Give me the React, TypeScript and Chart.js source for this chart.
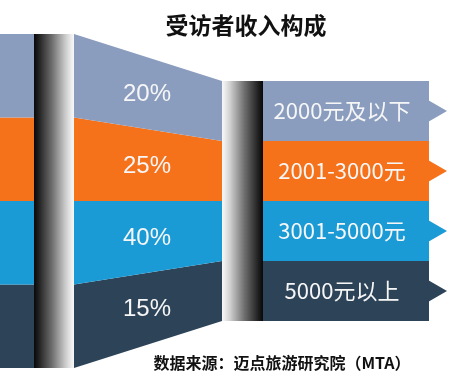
import React, { useEffect, useRef } from "react";
import { Chart, registerables } from "chart.js";

Chart.register(...registerables);

// ---- data ----
const categories = ["2000元及以下", "2001-3000元", "3001-5000元", "5000元以上"];
const shares = [20, 25, 40, 15];
const shareLabels = shares.map((v) => `${v}%`);
const bandColors = ["#8A9DBF", "#F5721B", "#1A9BD6", "#2D4358"];
const titleText = "受访者收入构成";
const sourceText = "数据来源：迈点旅游研究院（MTA）";

// ---- layout (funnel geometry, in canvas-like x units and band units) ----
const W = 450;
const H = 380;
const PX_PER_BAND = 83.5;
const CENTER_PX = 201;
const Y_MAX = CENTER_PX / PX_PER_BAND;
const Y_MIN = -(H - CENTER_PX) / PX_PER_BAND;
const RIGHT_SCALE = 0.7186;
const stages = [
  { x: 0, s: 1 },
  { x: 74, s: 1 },
  { x: 222, s: RIGHT_SCALE },
  { x: 429, s: RIGHT_SCALE },
];
const cyl1 = { x0: 34, x1: 74, s: 1 };
const cyl2 = { x0: 222, x1: 263, s: RIGHT_SCALE };
const pctLabelX = 147;
const catLabelX = 342;
const arrowX = 434;

function scaleAt(x: number) {
  for (let i = 0; i < stages.length - 1; i++) {
    const a = stages[i];
    const b = stages[i + 1];
    if (x >= a.x && x <= b.x) {
      return a.s + ((x - a.x) / (b.x - a.x)) * (b.s - a.s);
    }
  }
  return 1;
}

const n = categories.length;
const half = n / 2;

const overlayPlugin = {
  id: "overlay",
  afterDatasetsDraw(chart: any) {
    const { ctx, scales } = chart;
    const xs = scales.x;
    const ys = scales.y;
    // cylinders
    const drawCyl = (c: any, reverse: boolean) => {
      const x0 = xs.getPixelForValue(c.x0);
      const x1 = xs.getPixelForValue(c.x1);
      const y0 = ys.getPixelForValue(c.s * half);
      const y1 = ys.getPixelForValue(-c.s * half);
      const g = ctx.createLinearGradient(x0, 0, x1, 0);
      const stops: [number, string][] = [
        [0, "#080808"],
        [0.1, "#1c1c1c"],
        [0.45, "#6e6e6e"],
        [0.8, "#cfcfcf"],
        [0.93, "#ececec"],
        [1, "#f7f7f7"],
      ];
      stops.forEach(([p, col]) => g.addColorStop(reverse ? 1 - p : p, col));
      ctx.save();
      ctx.fillStyle = g;
      ctx.fillRect(x0, y0, x1 - x0, y1 - y0);
      ctx.restore();
    };
    drawCyl(cyl1, false);
    drawCyl(cyl2, true);

    ctx.save();
    ctx.textAlign = "center";
    ctx.textBaseline = "middle";
    ctx.fillStyle = "#f6f6f6";
    // percent labels
    ctx.font = '24px "Liberation Sans", Arial, sans-serif';
    const sp = scaleAt(pctLabelX);
    shareLabels.forEach((t, k) => {
      const y = ys.getPixelForValue(sp * (half - 0.5 - k));
      ctx.fillText(t, xs.getPixelForValue(pctLabelX), y + 1);
    });
    // category labels
    ctx.font = '22px "Noto Sans CJK SC", "Noto Sans", sans-serif';
    categories.forEach((t, k) => {
      const y = ys.getPixelForValue(RIGHT_SCALE * (half - 0.5 - k));
      ctx.fillText(t, xs.getPixelForValue(catLabelX), y);
    });
    // title & source
    ctx.fillStyle = "#111111";
    ctx.font = 'bold 23px "Noto Sans CJK SC", sans-serif';
    ctx.fillText(titleText, 246, 25);
    ctx.font = 'bold 16px "Noto Sans CJK SC", sans-serif';
    ctx.fillText(sourceText, 282, 363);
    ctx.restore();
  },
};

export default function App() {
  const ref = useRef<HTMLCanvasElement>(null);
  useEffect(() => {
    if (!ref.current) return;
    const boundaries = Array.from({ length: n + 1 }, (_, k) => k);
    const datasets: any[] = boundaries.map((k) => ({
      type: "line",
      data: stages.map((st) => ({ x: st.x, y: st.s * (half - k) })),
      borderWidth: 0,
      borderColor: "rgba(0,0,0,0)",
      pointRadius: 0,
      tension: 0,
      backgroundColor: k < n ? bandColors[k] : "rgba(0,0,0,0)",
      fill: k < n ? "+1" : false,
      order: 2,
    }));
    datasets.push({
      type: "line",
      showLine: false,
      data: categories.map((_, k) => ({ x: arrowX, y: RIGHT_SCALE * (half - 0.5 - k) })),
      pointStyle: "triangle",
      rotation: 90,
      pointRadius: 13,
      pointBorderWidth: 0,
      pointBackgroundColor: bandColors,
      pointBorderColor: bandColors,
      fill: false,
      clip: false,
      order: 1,
    });
    const chart = new Chart(ref.current, {
      type: "line",
      data: { datasets },
      options: {
        animation: false,
        responsive: false,
        devicePixelRatio: 1,
        layout: { padding: 0, autoPadding: false },
        plugins: { legend: { display: false }, tooltip: { enabled: false }, title: { display: false } },
        scales: {
          x: { type: "linear", min: 0, max: W, display: false },
          y: { type: "linear", min: Y_MIN, max: Y_MAX, display: false },
        },
      },
      plugins: [overlayPlugin],
    });
    return () => chart.destroy();
  }, []);
  return (
    <div style={{ position: "absolute", left: 0, top: 0, width: W, height: H, background: "#fff" }}>
      <canvas ref={ref} width={W} height={H} />
    </div>
  );
}
